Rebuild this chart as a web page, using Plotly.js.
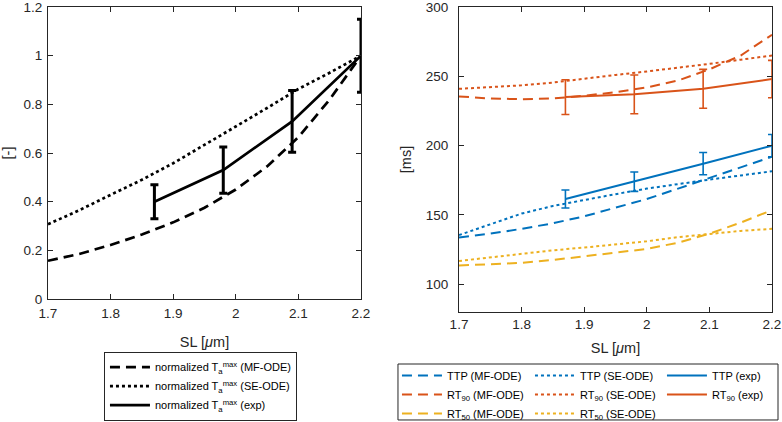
<!DOCTYPE html>
<html>
<head>
<meta charset="utf-8">
<script src="https://cdn.plot.ly/plotly-3.0.1.min.js"></script>
<style>
  html, body { margin: 0; padding: 0; background: #fff; }
  #chart { width: 782px; height: 422px; }
</style>
</head>
<body>
<div id="chart"></div>
<script>
// sarcomere length grid for the model curves
const sl = [1.7, 1.75, 1.8, 1.85, 1.9, 1.95, 2.0, 2.05, 2.1, 2.15, 2.2]
// experimental points
const slExp = [1.87, 1.98, 2.09, 2.2]

// left panel: normalized Ta max
const taMF = [0.157, 0.185, 0.222, 0.265, 0.315, 0.375, 0.45, 0.545, 0.665, 0.82, 1.0]
const taSE = [0.307, 0.365, 0.428, 0.49, 0.558, 0.632, 0.709, 0.785, 0.863, 0.93, 1.0]
const taExp = [0.40, 0.53, 0.73, 1.0]
const taExpErr = [0.07, 0.095, 0.127, 0.15]

// right panel: times in ms
const ttpMF = [133.7, 136.5, 140, 144, 149, 155, 161.5, 169, 176.5, 184, 192]
const ttpSE = [135.5, 143, 151, 156.5, 161, 165, 169, 172.5, 175.5, 178.5, 181.5]
const rt90MF = [235.5, 234, 233.5, 234, 236, 238.5, 242, 247, 255, 265, 280]
const rt90SE = [241, 242, 243.5, 245.5, 248.5, 251, 253.5, 256, 259, 262, 265]
const rt50MF = [113.5, 114.5, 115.5, 117.5, 120, 122.5, 125.5, 130, 136.5, 144.5, 153.5]
const rt50SE = [116.8, 119.5, 122, 124.5, 126.5, 128.5, 131, 134, 136.5, 138.5, 140]
const ttpExp = [161.5, 174, 187, 200]
const ttpExpErr = [6.5, 7, 8, 8]
const rt90Exp = [235, 237, 241, 248]
const rt90ExpErr = [12.5, 14, 14, 13.5]

// tick labels
const slTicks = [1.7, 1.8, 1.9, 2.0, 2.1, 2.2]
const taTicks = [0, 0.2, 0.4, 0.6, 0.8, 1, 1.2]
const msTicks = [100, 150, 200, 250, 300]

const blue = '#0072BD'
const orange = '#D95319'
const yellow = '#EDB120'
const axisColor = '#262626'
const font = 'Liberation Sans, Arial, sans-serif'

const taLabel = 'normalized T<sub>a</sub><sup>max</sup>'

const model = (y, color, dash, name, legend, xa, ya, width) => ({
  x: sl, y: y, name: name, legend: legend,
  xaxis: xa, yaxis: ya,
  type: 'scatter', mode: 'lines',
  line: { color: color, width: width, dash: dash }
})

const expTrace = (y, err, color, name, legend, xa, ya, width, thick) => ({
  x: slExp, y: y, name: name, legend: legend,
  xaxis: xa, yaxis: ya,
  type: 'scatter', mode: 'lines', cliponaxis: false,
  line: { color: color, width: width },
  error_y: { type: 'data', array: err, visible: true, color: color, thickness: thick, width: 4 }
})

const dash = '10px,6px'

const traces = [
  model(taMF, '#000', dash, taLabel + ' (MF-ODE)', 'legend', 'x', 'y', 2.7),
  model(taSE, '#000', 'dot', taLabel + ' (SE-ODE)', 'legend', 'x', 'y', 2.7),
  expTrace(taExp, taExpErr, '#000', taLabel + ' (exp)', 'legend', 'x', 'y', 2.7, 3),

  model(ttpMF, blue, dash, 'TTP (MF-ODE)', 'legend2', 'x2', 'y2', 2),
  model(rt90MF, orange, dash, 'RT<sub>90</sub> (MF-ODE)', 'legend2', 'x2', 'y2', 2),
  model(rt50MF, yellow, dash, 'RT<sub>50</sub> (MF-ODE)', 'legend2', 'x2', 'y2', 2),
  model(ttpSE, blue, 'dot', 'TTP (SE-ODE)', 'legend3', 'x2', 'y2', 2),
  model(rt90SE, orange, 'dot', 'RT<sub>90</sub> (SE-ODE)', 'legend3', 'x2', 'y2', 2),
  model(rt50SE, yellow, 'dot', 'RT<sub>50</sub> (SE-ODE)', 'legend3', 'x2', 'y2', 2),
  expTrace(ttpExp, ttpExpErr, blue, 'TTP (exp)', 'legend4', 'x2', 'y2', 2, 1.6),
  expTrace(rt90Exp, rt90ExpErr, orange, 'RT<sub>90</sub> (exp)', 'legend4', 'x2', 'y2', 2, 1.6),
]

const axisBase = {
  showline: true, linecolor: axisColor, linewidth: 1, mirror: 'ticks',
  ticks: 'inside', ticklen: 5, tickcolor: axisColor, tickwidth: 1,
  showgrid: false, zeroline: false, tickmode: 'array',
  ticklabeloverflow: 'allow',
  tickfont: { family: font, size: 13.5, color: axisColor },
}

const titleFont = { family: font, size: 14.5, color: axisColor }

const legendBase = {
  orientation: 'v', xanchor: 'left', yanchor: 'top',
  font: { family: font, size: 11, color: '#000' },
  itemwidth: 40, bgcolor: 'rgba(0,0,0,0)', borderwidth: 0,
}

const layout = {
  width: 782, height: 422,
  margin: { l: 48, r: 10, t: 7, b: 110, autoexpand: false },
  paper_bgcolor: '#fff', plot_bgcolor: '#fff',
  xaxis: Object.assign({}, axisBase, {
    domain: [0, 0.4323], range: [1.7, 2.2], tickvals: slTicks, anchor: 'y',
    ticklabelstandoff: 2,
    title: { text: 'SL [<i>μ</i>m]', font: titleFont, standoff: 16 }
  }),
  yaxis: Object.assign({}, axisBase, {
    domain: [0.0426, 1], range: [0, 1.2], tickvals: taTicks, anchor: 'x',
    ticklabelstandoff: 2,
    title: { text: '[-]', font: titleFont, standoff: 10 }
  }),
  xaxis2: Object.assign({}, axisBase, {
    domain: [0.5677, 1], range: [1.7, 2.2], tickvals: slTicks, anchor: 'y2',
    title: { text: 'SL [<i>μ</i>m]', font: titleFont, standoff: 11 }
  }),
  yaxis2: Object.assign({}, axisBase, {
    domain: [0, 1], range: [80, 300], tickvals: msTicks, anchor: 'x2',
    ticklabelstandoff: 7,
    title: { text: '[ms]', font: titleFont, standoff: 10 }
  }),
  legend: Object.assign({}, legendBase, {
    x: 0.0773, y: -0.13, bgcolor: '#fff', bordercolor: axisColor, borderwidth: 1
  }),
  legend2: Object.assign({}, legendBase, { x: 0.482, y: -0.161 }),
  legend3: Object.assign({}, legendBase, { x: 0.6657, y: -0.161 }),
  legend4: Object.assign({}, legendBase, { x: 0.848, y: -0.161 }),
  shapes: [
    // box round the three right-hand legend columns
    {
      type: 'rect', xref: 'paper', yref: 'paper',
      x0: 0.4834, x1: 1.0083, y0: -0.354, y1: -0.1705,
      line: { color: axisColor, width: 1 }, fillcolor: 'rgba(0,0,0,0)'
    }
  ],
}

Plotly.newPlot('chart', traces, layout, { responsive: false, displayModeBar: false, staticPlot: true })
</script>
</body>
</html>
